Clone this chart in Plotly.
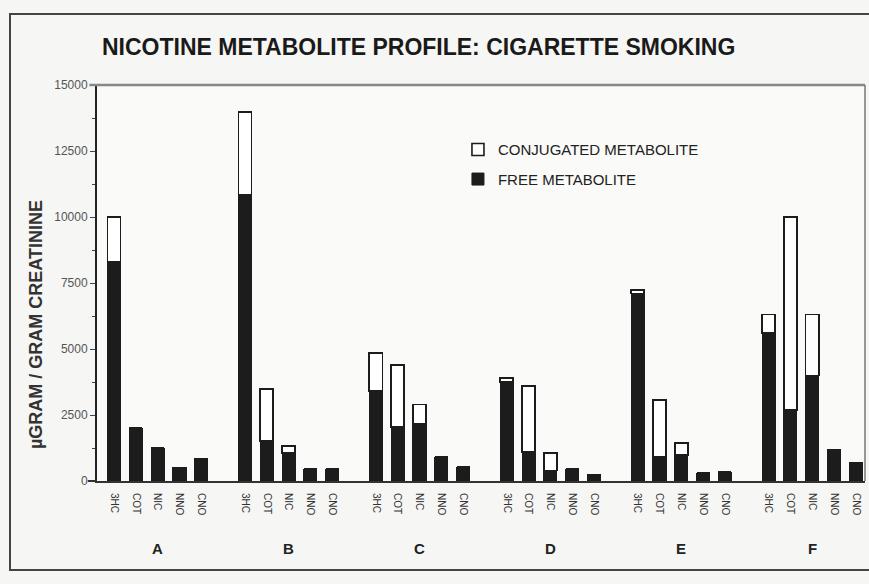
import plotly.graph_objects as go

groups = ["A", "B", "C", "D", "E", "F"]
metabolites = ["3HC", "COT", "NIC", "NNO", "CNO"]

free_A = [8300, 2000, 1250, 500, 840]
free_B = [10830, 1510, 1060, 450, 450]
free_C = [3400, 2050, 2150, 900, 530]
free_D = [3750, 1100, 400, 450, 230]
free_E = [7100, 900, 980, 300, 340]
free_F = [5600, 2700, 4000, 1200, 700]

conj_A = [1700, 0, 0, 0, 0]
conj_B = [3150, 1970, 260, 0, 0]
conj_C = [1450, 2350, 750, 0, 0]
conj_D = [150, 2500, 650, 0, 0]
conj_E = [130, 2170, 460, 0, 0]
conj_F = [700, 7300, 2300, 0, 0]

y_ticks = [0, 2500, 5000, 7500, 10000, 12500, 15000]

free_all = [free_A, free_B, free_C, free_D, free_E, free_F]
conj_all = [conj_A, conj_B, conj_C, conj_D, conj_E, conj_F]

xs, labels, fv, cv = [], [], [], []
for g in range(len(groups)):
    for i, m in enumerate(metabolites):
        xs.append(g * 6 + i)
        labels.append(m)
        fv.append(free_all[g][i])
        cv.append(conj_all[g][i])

FONT = "Liberation Sans, Arial, sans-serif"

fig = go.Figure()
fig.add_trace(go.Bar(
    x=xs, y=fv, name="FREE METABOLITE", width=0.6,
    marker=dict(color="#1c1c1c", line=dict(color="#1c1c1c", width=1)),
    legendgroup="free", legendrank=2,
))
fig.add_trace(go.Bar(
    x=xs, y=cv, name="CONJUGATED METABOLITE", width=0.6,
    marker=dict(color="#ffffff", line=dict(color="#1c1c1c", width=1.6)),
    legendgroup="conj", legendrank=1,
))

fig.update_layout(
    width=869, height=584,
    barmode="stack",
    paper_bgcolor="#f6f6f4",
    plot_bgcolor="#fafaf8",
    margin=dict(l=97, r=4, t=85, b=103),
    font=dict(family=FONT, color="#222"),
    title=dict(
        text="<b>NICOTINE METABOLITE PROFILE: CIGARETTE SMOKING</b>",
        x=102 / 869, xanchor="left", y=1 - 47 / 584, yanchor="middle",
        font=dict(size=23, family=FONT, color="#1a1a1a"),
    ),
    legend=dict(
        x=0.47, y=0.878, xanchor="left", yanchor="top",
        traceorder="grouped", tracegroupgap=7,
        bgcolor="rgba(0,0,0,0)",
        font=dict(size=15, family=FONT, color="#222"),
    ),
    showlegend=True,
)

fig.update_xaxes(
    range=[-0.78, 34.42],
    tickmode="array", tickvals=xs, ticktext=labels,
    tickangle=90, tickfont=dict(size=10, family=FONT, color="#333"),
    ticks="", ticklabelstandoff=8,
    showgrid=False, zeroline=False,
    showline=True, linecolor="#333", linewidth=2, mirror=False,
)
fig.update_yaxes(
    range=[0, 15000],
    tickmode="array", tickvals=y_ticks, ticktext=[str(v) for v in y_ticks],
    tickfont=dict(size=12, family=FONT, color="#555"),
    ticks="outside", ticklen=5, tickwidth=1, tickcolor="#444",
    minor=dict(tickvals=[1250, 3750, 6250, 8750, 11250, 13750], ticks="outside", ticklen=3, tickcolor="#444"),
    showgrid=False, zeroline=False,
    showline=True, linecolor="#222", linewidth=2,
)

# top and right frame of plot area
fig.add_shape(type="line", xref="paper", yref="paper", x0=-0.01, x1=1.0, y0=1, y1=1,
              line=dict(color="#888", width=2.5))
fig.add_shape(type="line", xref="paper", yref="paper", x0=1.0, x1=1.0, y0=0, y1=1,
              line=dict(color="#777", width=1.5))
# baseline extension to the left of the axis
fig.add_shape(type="line", xref="paper", yref="paper", x0=-0.012, x1=0, y0=0, y1=0,
              line=dict(color="#333", width=2))
# outer frame
fig.add_shape(type="rect", xref="paper", yref="paper",
              x0=(10 - 97) / 768, x1=(880 - 97) / 768,
              y0=(481 - 570) / 396, y1=(481 - 14) / 396,
              line=dict(color="#444", width=2))

# group letters
for g, name in enumerate(groups):
    fig.add_annotation(x=g * 6 + 2, y=-(548 - 481) / 396, xref="x", yref="paper",
                       yanchor="middle",
                       text=f"<b>{name}</b>", showarrow=False,
                       font=dict(size=15, family=FONT, color="#222"))

# y-axis title
fig.add_annotation(x=(36 - 97) / 768, y=(481 - 325) / 396, xref="paper", yref="paper",
                   xanchor="center", yanchor="middle",
                   text="<b>\u00b5GRAM / GRAM CREATININE</b>", textangle=-90,
                   showarrow=False, font=dict(size=18, family=FONT, color="#333"))

fig.write_html("out.html", config={"displayModeBar": False},
               post_script="document.body.style.margin='0';document.body.style.overflow='hidden';")
